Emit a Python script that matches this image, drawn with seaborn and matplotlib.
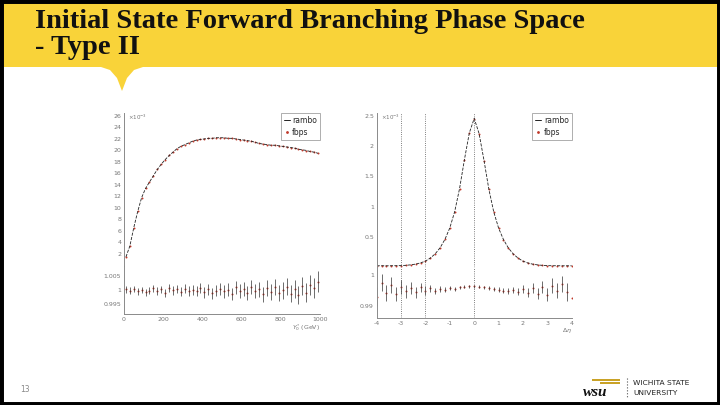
import matplotlib
matplotlib.use('Agg')
import matplotlib.pyplot as plt
from matplotlib.patches import Rectangle, Polygon
from matplotlib.lines import Line2D
from matplotlib.ticker import MultipleLocator
import numpy as np
import pandas as pd
import seaborn as sns

sns.set_theme(style='white')
plt.rcParams['font.family'] = ['DejaVu Sans']

# ---- data ----
# left: Y* distribution (x10^-3), 20 GeV bins
left_x = np.arange(10, 1000, 20)
left_rambo = [1.5, 3.4, 6.6, 9.4, 11.8, 13.4, 14.5, 15.6, 16.7, 17.6,
              18.4, 19.1, 19.7, 20.3, 20.7, 21.0, 21.3, 21.6, 21.8, 21.9,
              22.0, 22.1, 22.1, 22.2, 22.2, 22.2, 22.1, 22.1, 22.0, 21.9,
              21.8, 21.7, 21.6, 21.4, 21.2, 21.1, 21.0, 20.9, 20.9, 20.8,
              20.7, 20.6, 20.5, 20.4, 20.2, 20.1, 20.0, 19.8, 19.7, 19.5]
left_ratio = [1.0003, 0.9998, 1.0004, 0.9995, 1.0001, 0.9993, 0.9997, 1.0006, 0.9996, 1.0002,
              0.9990, 1.0008, 0.9999, 1.0003, 0.9994, 1.0005, 0.9997, 1.0001, 0.9996, 1.0007,
              0.9992, 1.0002, 0.9988, 0.9998, 1.0004, 0.9995, 1.0001, 0.9986, 1.0009, 0.9997,
              1.0003, 0.9990, 1.0011, 0.9996, 1.0002, 0.9985, 1.0006, 0.9993, 1.0010, 0.9989,
              0.9999, 1.0012, 0.9987, 1.0004, 0.9983, 1.0014, 0.9991, 1.0017, 1.0008, 1.0028]
left_err = [0.0012, 0.0012, 0.0011, 0.0011, 0.0011, 0.0012, 0.0012, 0.0012, 0.0013, 0.0013,
            0.0014, 0.0014, 0.0015, 0.0015, 0.0016, 0.0016, 0.0017, 0.0017, 0.0018, 0.0018,
            0.0019, 0.0019, 0.0020, 0.0020, 0.0021, 0.0021, 0.0022, 0.0022, 0.0023, 0.0023,
            0.0024, 0.0024, 0.0025, 0.0025, 0.0026, 0.0026, 0.0027, 0.0027, 0.0028, 0.0028,
            0.0029, 0.0030, 0.0030, 0.0031, 0.0032, 0.0032, 0.0033, 0.0034, 0.0035, 0.0036]

# right: eta distribution (x10^-3), 0.2 bins
right_x = np.round(np.arange(-4, 4.01, 0.2), 1)
right_rambo = [0.020, 0.021, 0.020, 0.021, 0.022, 0.023, 0.028, 0.036, 0.048, 0.068,
               0.098, 0.148, 0.218, 0.318, 0.458, 0.648, 0.918, 1.30, 1.78, 2.22,
               2.46,
               2.21, 1.77, 1.29, 0.915, 0.645, 0.455, 0.316, 0.217, 0.147, 0.097,
               0.067, 0.047, 0.035, 0.027, 0.023, 0.021, 0.021, 0.020, 0.020, 0.020]
right_ratio = [0.9930, 0.9975, 0.9942, 0.9968, 0.9938, 0.9962, 0.9947, 0.9958, 0.9944, 0.9960,
               0.9950, 0.9957, 0.9949, 0.9955, 0.9952, 0.9958, 0.9956, 0.9960, 0.9962, 0.9963,
               0.9964,
               0.9962, 0.9960, 0.9957, 0.9955, 0.9953, 0.9950, 0.9948, 0.9952, 0.9946, 0.9955,
               0.9943, 0.9958, 0.9940, 0.9962, 0.9937, 0.9966, 0.9950, 0.9972, 0.9945, 0.9925]
right_err = [0.0030, 0.0028, 0.0026, 0.0025, 0.0023, 0.0022, 0.0020, 0.0019, 0.0017, 0.0015,
             0.0013, 0.0012, 0.0010, 0.0009, 0.0008, 0.0007, 0.0006, 0.0006, 0.0005, 0.0005,
             0.0005,
             0.0005, 0.0005, 0.0006, 0.0006, 0.0007, 0.0008, 0.0009, 0.0010, 0.0012, 0.0013,
             0.0015, 0.0017, 0.0019, 0.0020, 0.0022, 0.0023, 0.0025, 0.0026, 0.0028, 0.0030]
right_vlines = [-3, -2, 0, 4]

left_df = pd.DataFrame({'x': left_x, 'rambo': left_rambo, 'ratio': left_ratio, 'err': left_err})
left_df['fbps'] = left_df['rambo'] * left_df['ratio']
right_df = pd.DataFrame({'x': right_x, 'rambo': right_rambo, 'ratio': right_ratio, 'err': right_err})
right_df['fbps'] = right_df['rambo'] * right_df['ratio']

W, H = 720, 405
fig = plt.figure(figsize=(7.2, 4.05), dpi=100)

# slide decoration layer in pixel coords
bg = fig.add_axes([0, 0, 1, 1], zorder=0)
bg.set_xlim(0, W)
bg.set_ylim(H, 0)
bg.axis('off')
yellow = '#F9D339'
bg.add_patch(Rectangle((0, 0), W, 67, color=yellow, lw=0))
bg.add_patch(Polygon([(98, 66), (110, 70), (117, 78), (122, 91), (127, 78), (134, 70), (146, 66)],
                     closed=True, color=yellow, lw=0))
bg.text(35, 21, 'Initial State Forward Branching Phase Space', fontsize=20.5, fontweight='bold',
        family='Liberation Serif', va='center', ha='left', color='#111')
bg.text(35, 48, '- Type II', fontsize=20.5, fontweight='bold',
        family='Liberation Serif', va='center', ha='left', color='#111')
bg.text(20, 390, '13', fontsize=5.5, color='#888', va='center')
# logo
bg.add_patch(Rectangle((592, 379), 28, 1.6, color='#c9a227', lw=0))
bg.add_patch(Rectangle((600, 382), 20, 1.6, color='#c9a227', lw=0))
bg.text(583, 392, 'wsu', fontsize=11, fontweight='bold', fontstyle='italic',
        family='Liberation Serif', va='center', ha='left', color='#111')
bg.plot([627, 627], [378, 398], ls=':', color='#555', lw=0.8)
bg.text(633, 383, 'WICHITA STATE', fontsize=5.4, va='center', ha='left', color='#222')
bg.text(633, 393, 'UNIVERSITY', fontsize=5.4, va='center', ha='left', color='#222')
bg.add_patch(Rectangle((0, 0), W, H, fill=False, ec='black', lw=5))

gray = '#8a8a8a'


def make_ax(x0, x1, y0, y1):
    ax = fig.add_axes([x0 / W, 1 - y1 / H, (x1 - x0) / W, (y1 - y0) / H], zorder=2)
    ax.set_facecolor('none')
    for s in ['top', 'right']:
        ax.spines[s].set_visible(False)
    for s in ['left', 'bottom']:
        ax.spines[s].set_color(gray)
        ax.spines[s].set_linewidth(0.7)
    ax.tick_params(which='major', direction='in', length=5, width=0.6, colors=gray,
                   labelsize=4.5, labelcolor='#777', pad=2)
    ax.tick_params(which='minor', direction='in', length=2.5, width=0.5, colors=gray)
    return ax


def draw(top, bot, df, xlim):
    sns.lineplot(data=df, x='x', y='rambo', ax=top, color='#222', lw=0.6, ls='--')
    sns.scatterplot(data=df, x='x', y='fbps', ax=top, color='#c0392b', s=2, linewidth=0)
    bot.errorbar(df['x'], df['ratio'], yerr=df['err'], fmt='none', ecolor='#333', elinewidth=0.5)
    sns.scatterplot(data=df, x='x', y='ratio', ax=bot, color='#c0392b', s=2, linewidth=0)
    for a in (top, bot):
        a.set_xlim(*xlim)
        a.set_xlabel('')
        a.set_ylabel('')
    top.spines['bottom'].set_visible(False)
    top.tick_params(axis='x', labelbottom=False)
    handles = [Line2D([], [], color='#222', lw=0.7), Line2D([], [], color='#c0392b', marker='.', ls='none', ms=2)]
    leg = top.legend(handles, ['rambo', 'fbps'], loc='upper right', fontsize=5.5, frameon=True,
                     fancybox=False, edgecolor=gray, borderpad=0.4, handlelength=0.8,
                     handletextpad=0.3, labelspacing=0.4, borderaxespad=0.0)
    leg.get_frame().set_linewidth(0.6)
    top.text(0.02, 1.0, '×10$^{-3}$', transform=top.transAxes, fontsize=4, color='#777', va='top')


# left chart
lt = make_ax(124, 320, 113, 265.5)
lb = make_ax(124, 320, 265.5, 314)
draw(lt, lb, left_df, (0, 1000))
lt.set_ylim(0, 26.5)
lt.yaxis.set_minor_locator(MultipleLocator(1))
lt.set_yticks(range(2, 27, 2))
lt.tick_params(axis='x', length=0, which='both')
lb.set_ylim(0.99172, 1.00845)
lb.set_yticks([0.995, 1.0, 1.005])
lb.set_yticklabels(['0.995', '1', '1.005'])
lb.xaxis.set_major_locator(MultipleLocator(200))
lb.xaxis.set_minor_locator(MultipleLocator(50))
lb.set_xticklabels([f'{int(v)}' for v in lb.get_xticks()])
lb.set_xlabel('$Y^{*}_{0}$ (GeV)', fontsize=4.5, color='#777', loc='right', labelpad=0)

# right chart
rt = make_ax(376.7, 571.7, 113, 267)
rb = make_ax(376.7, 571.7, 267, 318)
draw(rt, rb, right_df, (-4, 4))
for v in right_vlines:
    for a in (rt, rb):
        a.axvline(v, color='#555', ls=':', lw=0.6)
rt.set_ylim(0, 2.55)
rt.set_yticks([0.5, 1.0, 1.5, 2.0, 2.5])
rt.set_yticklabels(['0.5', '1', '1.5', '2', '2.5'])
rt.yaxis.set_minor_locator(MultipleLocator(0.1))
rt.xaxis.set_major_locator(MultipleLocator(0.5))
rt.tick_params(axis='x', which='major', length=1.5)
rt.tick_params(axis='x', which='minor', length=0)
rb.set_ylim(0.98613, 1.00258)
rb.set_yticks([0.99, 1.0])
rb.set_yticklabels(['0.99', '1'])
rb.yaxis.set_minor_locator(MultipleLocator(0.0025))
rb.xaxis.set_major_locator(MultipleLocator(1))
rb.xaxis.set_minor_locator(MultipleLocator(0.25))
rb.set_xticklabels([f'{int(v)}' for v in rb.get_xticks()])
rb.set_xlabel('$\\Delta\\eta$', fontsize=4.5, color='#777', loc='right', labelpad=0)

fig.savefig('out.png', dpi=100)
